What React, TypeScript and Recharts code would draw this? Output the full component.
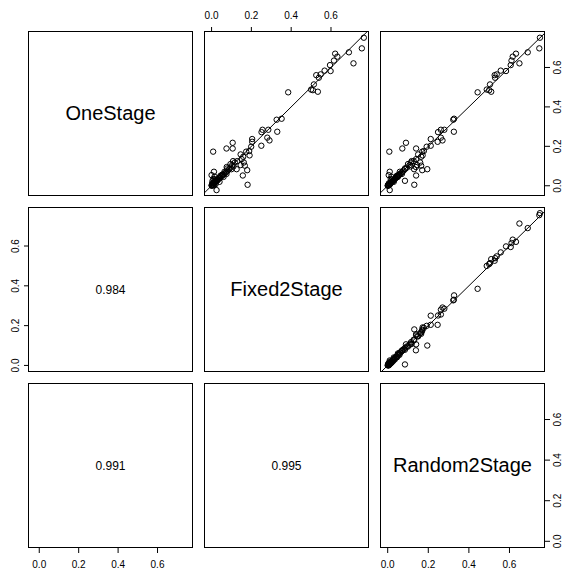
import { ReferenceLine, Scatter, ScatterChart, XAxis, YAxis } from "recharts";

const FONT = '"Liberation Sans", Arial, Helvetica, sans-serif';

// one entry per study, same order in every array
const oneStage = [
  0.751, 0.697, 0.621, 0.677, 0.670, 0.655, 0.635, 0.612, 0.582, 0.584,
  0.565, 0.561, 0.548, 0.514, 0.485, 0.477, 0.474, 0.488,
  0.340, 0.335, 0.274, 0.284, 0.284, 0.272, 0.244, 0.230, 0.203, 0.237,
  0.223, 0.198, 0.176, 0.173, 0.154, 0.218, 0.189, 0.189, 0.173,
  0.159, 0.147, 0.135, 0.125, 0.118, 0.105, 0.118, 0.105, 0.102, 0.084,
  0.084, 0.088, 0.079, 0.052, 0.005, 0.071, 0.057, 0.051, 0.071, 0.054,
  0.046, 0.028, -0.022, 0.025, 0.095,
  0.000, 0.003, 0.005, 0.008, 0.010, 0.012, 0.015, 0.018, 0.020, 0.022,
  0.025, 0.028, 0.031, 0.034, 0.037, 0.040, 0.044, 0.048, 0.052, 0.056,
  0.061, 0.066, 0.072, 0.078, 0.085, 0.092, 0.008, 0.035, 0.002, 0.045,
  0.060, 0.020, 0.001, 0.004, 0.013, 0.030, 0.110, 0.098, 0.125,
];

const fixed2Stage = [
  0.765, 0.755, 0.713, 0.690, 0.621, 0.632, 0.615, 0.595, 0.598, 0.568,
  0.548, 0.526, 0.539, 0.514, 0.509, 0.534, 0.385, 0.500,
  0.352, 0.327, 0.330, 0.285, 0.256, 0.251, 0.280, 0.291, 0.250, 0.204,
  0.204, 0.199, 0.189, 0.174, 0.191, 0.106, 0.075, 0.106, 0.008,
  0.146, 0.159, 0.151, 0.129, 0.117, 0.104, 0.162, 0.146, 0.167, 0.126,
  0.100, 0.079, 0.179, 0.157, 0.181, 0.065, 0.059, 0.045, 0.012, 0.000,
  0.015, 0.029, 0.025, 0.005, 0.076,
  0.002, 0.001, 0.006, 0.004, 0.012, 0.009, 0.016, 0.014, 0.022, 0.019,
  0.027, 0.024, 0.033, 0.030, 0.039, 0.043, 0.041, 0.050, 0.055, 0.053,
  0.064, 0.070, 0.076, 0.082, 0.089, 0.095, 0.020, 0.010, 0.012, 0.060,
  0.075, 0.040, 0.000, 0.008, 0.003, 0.018, 0.095, 0.110, 0.108,
];

const random2Stage = [
  0.750, 0.747, 0.649, 0.690, 0.632, 0.616, 0.610, 0.606, 0.583, 0.557,
  0.537, 0.527, 0.529, 0.504, 0.500, 0.510, 0.443, 0.488,
  0.327, 0.323, 0.326, 0.279, 0.262, 0.248, 0.262, 0.270, 0.212, 0.212,
  0.246, 0.192, 0.178, 0.170, 0.172, 0.090, 0.072, 0.140, 0.008,
  0.150, 0.165, 0.140, 0.128, 0.115, 0.108, 0.160, 0.145, 0.165, 0.130,
  0.195, 0.085, 0.170, 0.140, 0.131, 0.060, 0.055, 0.045, 0.010, 0.005,
  0.018, 0.030, 0.010, 0.085, 0.139,
  0.001, 0.004, 0.003, 0.007, 0.009, 0.013, 0.014, 0.017, 0.021, 0.024,
  0.025, 0.027, 0.032, 0.035, 0.036, 0.041, 0.046, 0.049, 0.053, 0.058,
  0.062, 0.068, 0.074, 0.079, 0.086, 0.094, 0.012, 0.015, 0.006, 0.050,
  0.070, 0.030, 0.000, 0.002, 0.006, 0.020, 0.100, 0.112, 0.118,
];

const varNames = ["OneStage", "Fixed2Stage", "Random2Stage"];
// lower panels: [row, col, text]
const corrLabels: [number, number, string][] = [
  [1, 0, "0.984"],
  [2, 0, "0.991"],
  [2, 1, "0.995"],
];
const axisTicks = [0, 0.2, 0.4, 0.6];

const series = [oneStage, fixed2Stage, random2Stage];
const ranges: [number, number][] = [
  [-0.052, 0.78],
  [-0.033, 0.791],
  [-0.033, 0.775],
];

const BOX = 164;
const LEFT = 28;
const TOP = 31;
const STEP = 176;
const PAD = 40;

const fmt = (v: number) => v.toFixed(1);

function Ring(props: any) {
  const { cx, cy } = props;
  if (cx == null || cy == null) return null;
  return <circle cx={cx} cy={cy} r={2.7} fill="none" stroke="#000" strokeWidth={1} />;
}

function SideTick(props: any) {
  const { x, y, payload, side } = props;
  const bx = side === "left" ? x : x + 7.2;
  return (
    <text
      x={bx}
      y={y}
      transform={`rotate(-90 ${bx} ${y})`}
      textAnchor="middle"
      fontSize={10}
      fontFamily={FONT}
      fill="#000"
    >
      {fmt(payload.value)}
    </text>
  );
}

function Panel({ row, col }: { row: number; col: number }) {
  const showTop = row === 0 && col % 2 === 1;
  const showBottom = row === 2 && col % 2 === 0;
  const showLeft = col === 0 && row % 2 === 1;
  const showRight = col === 2 && row % 2 === 0;
  const boxLeft = LEFT + col * STEP;
  const boxTop = TOP + row * STEP;
  const isScatter = col > row;
  const data = series[0].map((_, i) => ({ x: series[col][i], y: series[row][i] }));
  const corr = corrLabels.find((c) => c[0] === row && c[1] === col);

  return (
    <>
      <div style={{ position: "absolute", left: boxLeft + 0.5 - PAD, top: boxTop + 0.5 - PAD }}>
        <ScatterChart
          width={BOX + 2 * PAD}
          height={BOX + 2 * PAD}
          margin={{
            top: showTop ? 0 : PAD,
            bottom: showBottom ? 0 : PAD,
            left: showLeft ? 0 : PAD,
            right: showRight ? 0 : PAD,
          }}
        >
          <XAxis
            type="number"
            dataKey="x"
            domain={ranges[col]}
            allowDataOverflow
            ticks={axisTicks}
            interval={0}
            orientation={showTop ? "top" : "bottom"}
            hide={!(showTop || showBottom)}
            height={PAD}
            axisLine={false}
            tickLine={{ stroke: "#000" }}
            tickSize={5}
            tickMargin={8}
            tick={{ fontSize: 10, fill: "#000", fontFamily: FONT }}
            tickFormatter={fmt}
          />
          <YAxis
            type="number"
            dataKey="y"
            domain={ranges[row]}
            allowDataOverflow
            ticks={axisTicks}
            interval={0}
            orientation={showRight ? "right" : "left"}
            hide={!(showLeft || showRight)}
            width={PAD}
            axisLine={false}
            tickLine={{ stroke: "#000" }}
            tickSize={5}
            tickMargin={showRight ? 4 : 5}
            tick={(p: any) => <SideTick {...p} side={showRight ? "right" : "left"} />}
          />
          {isScatter && (
            <ReferenceLine
              segment={[
                { x: -1, y: -1 },
                { x: 2, y: 2 },
              ]}
              stroke="#000"
              strokeWidth={1}
              ifOverflow="hidden"
            />
          )}
          {isScatter && <Scatter data={data} shape={Ring} isAnimationActive={false} />}
        </ScatterChart>
      </div>
      <div
        style={{
          position: "absolute",
          left: boxLeft,
          top: boxTop,
          width: BOX + 1,
          height: BOX + 1,
          boxSizing: "border-box",
          border: "1px solid #000",
          pointerEvents: "none",
        }}
      />
      {(row === col || corr) && (
        <div
          style={{
            position: "absolute",
            left: boxLeft,
            top: boxTop,
            width: BOX + 1,
            height: BOX + 1,
            display: "flex",
            alignItems: "center",
            justifyContent: "center",
            fontFamily: FONT,
            fontSize: row === col ? 20 : 12,
            color: "#000",
          }}
        >
          {row === col ? varNames[row] : corr![2]}
        </div>
      )}
    </>
  );
}

export default function App() {
  const cells: [number, number][] = [];
  for (let r = 0; r < 3; r++) for (let c = 0; c < 3; c++) cells.push([r, c]);
  return (
    <div
      style={{
        position: "absolute",
        left: 0,
        top: 0,
        width: 568,
        height: 573,
        background: "#fff",
        overflow: "hidden",
      }}
    >
      {cells.map(([r, c]) => (
        <Panel key={`${r}-${c}`} row={r} col={c} />
      ))}
    </div>
  );
}
